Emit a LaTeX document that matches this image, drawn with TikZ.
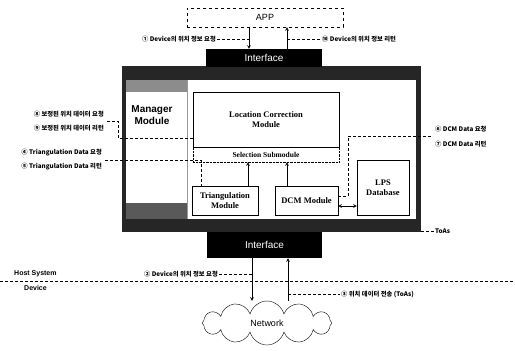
\documentclass[tikz,border=0pt]{standalone}
\usepackage{fontspec}
\setsansfont{Liberation Sans}
\newfontfamily\krfont{Noto Sans CJK KR}
\newfontfamily\modfont{Liberation Serif}
\usetikzlibrary{shapes.symbols}

\begin{document}
\begin{tikzpicture}[x=1pt, y=-1pt, >=stealth,
    lbl/.style={font=\krfont\bfseries\fontsize{6.3}{7}\selectfont, inner sep=1pt},
    lead/.style={densely dashed, thin},
    blk/.style={fill=black, text=white, font=\sffamily\fontsize{10}{12}\selectfont, inner sep=0pt},
    modbox/.style={draw, thin, font=\modfont\bfseries\fontsize{8.5}{10}\selectfont, align=center, inner sep=0pt},
    flow/.style={->, semithick}]
  \useasboundingbox (0,0) rectangle (515,351);
  % application on top
  \node[draw, dashed, thin, minimum width=156, minimum height=19, inner sep=0pt,
        font=\sffamily\fontsize{9}{10}\selectfont] (app) at (265,17.5) {APP};
  % manager frame
  \node[fill=black!85, minimum width=299, minimum height=166, inner sep=0pt] (frame) at (271.5,149) {};
  \fill[white] (126,80) rectangle (416,219);
  \fill[black!45] (126,80) rectangle (187,92);
  \fill[black!65] (126,203) rectangle (187,219);
  \draw[black!40] (187,80) -- (187,219);
  \node[font=\sffamily\bfseries\fontsize{10}{12}\selectfont, align=center] (mgr) at (152,115) {Manager\\Module};
  \node[blk, minimum width=116, minimum height=18] (ifup) at (264,58) {Interface};
  \node[blk, minimum width=115, minimum height=26] (ifdn) at (264.5,245) {Interface};
  % modules
  \node[modbox, minimum width=146, minimum height=55] (lcm) at (266,119.5) {Location Correction\\Module};
  \node[draw, densely dotted, thin, minimum width=146, minimum height=15, inner sep=0pt,
        font=\modfont\bfseries\fontsize{7.5}{9}\selectfont] (sel) at (266,154.5) {Selection Submodule};
  \node[modbox, minimum width=66, minimum height=29] (tri) at (225,200.5) {Triangulation\\Module};
  \node[modbox, minimum width=63, minimum height=29] (dcm) at (306.5,200.5) {DCM Module};
  \node[modbox, minimum width=52, minimum height=55] (lps) at (383,187.5) {LPS\\Database};
  \coordinate (ua) at (248,0);
  \coordinate (ub) at (287,0);
  \coordinate (dl) at (0,206);
  \draw[flow] (tri.north -| ua) -- (sel.south -| ua);
  \draw[flow] (dcm.north -| ub) -- (sel.south -| ub);
  \draw[<->, semithick] (dcm.east |- dl) -- (lps.west |- dl);
  % app <-> interface
  \coordinate (dx1) at (249,39);
  \coordinate (ux1) at (287,39);
  \draw[flow] (app.south -| dx1) -- (ifup.north -| dx1);
  \draw[flow] (ifup.north -| ux1) -- (app.south -| ux1);
  \node[lbl, anchor=east] (q1) at (217,39) {① Device의 위치 정보 요청};
  \node[lbl, anchor=west] (q10) at (321,39) {⑩ Device의 위치 정보 리턴};
  \draw[lead] (q1.east) -- (dx1);
  \draw[lead] (ux1) -- (q10.west);
  % corrected data
  \node[lbl, anchor=east] (q8) at (105,114) {⑧ 보정된 위치 데이터 요청};
  \node[lbl, anchor=east] (q9) at (105,128) {⑨ 보정된 위치 데이터 리턴};
  \coordinate (k0) at (107,121);
  \coordinate (k1) at (118,121);
  \coordinate (k2) at (0,138);
  \draw[lead] (k0) -- (k1) |- (lcm.west |- k2);
  % triangulation data
  \node[lbl, anchor=east] (q4) at (103,153) {④ Triangulation Data 요청};
  \node[lbl, anchor=east] (q5) at (103,167) {⑤ Triangulation Data 리턴};
  \coordinate (t0) at (105,160);
  \coordinate (t1) at (201,160);
  \draw[lead] (t0) -- (t1) -- (t1 |- tri.north);
  % dcm data
  \node[lbl, anchor=west] (q6) at (434,129) {⑥ DCM Data 요청};
  \node[lbl, anchor=west] (q7) at (434,144) {⑦ DCM Data 리턴};
  \coordinate (dcmy) at (0,196);
  \coordinate (dcmx) at (348,136);
  \coordinate (dcme) at (432,136);
  \draw[lead] (dcm.east |- dcmy) -| (dcmx) -- (dcme);
  \node[lbl, anchor=west] (toa) at (434,231) {ToAs};
  \draw[lead] (toa.west -| frame.east) -- (toa.west);
  % host / device
  \node[font=\sffamily\bfseries\fontsize{7}{8}\selectfont, anchor=west, inner sep=0pt] (host) at (14,274) {Host System};
  \node[font=\sffamily\bfseries\fontsize{7}{8}\selectfont, anchor=west, inner sep=0pt] (dev) at (24,288) {Device};
  \coordinate (bl) at (0,281);
  \coordinate (br) at (515,281);
  \draw[lead] (bl) -- (br);
  % network
  \node[cloud, draw, thin, cloud puffs=12, aspect=3.2, minimum width=130, minimum height=44,
        inner sep=0pt, font=\sffamily\fontsize{9}{10}\selectfont] (net) at (267,323) {Network};
  \coordinate (dx2) at (252,274);
  \coordinate (ux2) at (288,294);
  \draw[flow] (ifdn.south -| dx2) -- (net.north -| dx2);
  \draw[flow] (net.north -| ux2) -- (ifdn.south -| ux2);
  \node[lbl, anchor=east] (q2) at (219,274) {② Device의 위치 정보 요청};
  \node[lbl, anchor=west] (q3) at (340,294) {③ 위치 데이터 전송 (ToAs)};
  \draw[lead] (q2.east) -- (dx2);
  \draw[lead] (ux2) -- (q3.west);
\end{tikzpicture}
\end{document}
